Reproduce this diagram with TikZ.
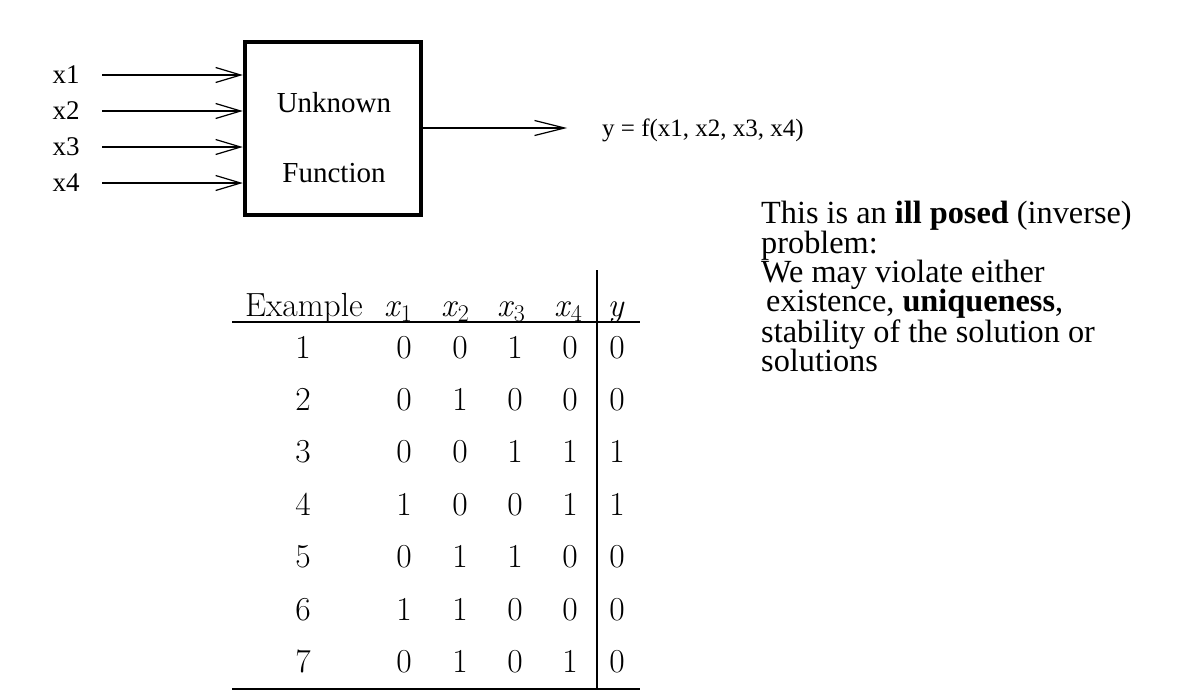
\documentclass[tikz,border=0pt]{standalone}
\usepackage{fontspec}
\newfontfamily\tms{Liberation Serif}
\usetikzlibrary{arrows.meta}
\newcommand{\xs}[1]{\textit{x}\raisebox{-5pt}{\fontsize{24}{26}\selectfont #1}}
\begin{document}
\begin{tikzpicture}[x=1pt,y=-1pt,
  lbl/.style={font=\tms\fontsize{25}{28}\selectfont, inner sep=0pt},
  inlbl/.style={font=\tms\fontsize{27}{30}\selectfont, inner sep=0pt},
  boxlbl/.style={font=\tms\fontsize{29}{32}\selectfont, inner sep=0pt},
  cell/.style={font=\fontsize{33.5}{36}\selectfont, inner sep=0pt, anchor=base},
  inarr/.style={line width=1.2pt, -{Straight Barb[length=25pt,width=15pt,line width=1.2pt]}},
  outarr/.style={line width=1.2pt, -{Straight Barb[length=30pt,width=15pt,line width=1.2pt]}},
  tabrule/.style={line width=1.3pt},
  para/.style={font=\tms\fontsize{32.3}{29.4}\selectfont, inner sep=0pt, align=left, anchor=north west}]
\useasboundingbox (0,0) rectangle (1188,693);
% inputs
\foreach \i/\yy in {1/75,2/111,3/147,4/183}{
  \node[inlbl] (x\i) at (66,\yy) {x\i};
  \coordinate (s\i) at (102,\yy);
}
\node[draw, line width=4.5pt, minimum width=176pt, minimum height=173pt, inner sep=0pt] (box) at (333,128.5) {};
\foreach \i in {1,...,4}{
  \draw[inarr] (s\i) -- (box.west |- s\i);
}
\node[boxlbl] (t1) at (334,103) {Unknown};
\node[boxlbl] (t2) at (334,173) {Function};
\coordinate (oend) at (567,128);
\draw[outarr] (box.east |- oend) -- (oend);
\node[lbl, anchor=west] (yf) at (602,130) {y = f(x1, x2, x3, x4)};
% table
\node[cell] (hE) at (304,316) {Example};
\node[cell] (h1) at (398,316) {\xs{1}};
\node[cell] (h2) at (455,316) {\xs{2}};
\node[cell] (h3) at (511,316) {\xs{3}};
\node[cell] (h4) at (568,316) {\xs{4}};
\node[cell] (hy) at (616,316) {\textit{y}};
\foreach \r/\a/\b/\c/\d/\e [count=\k from 0] in {1/0/0/1/0/0,2/0/1/0/0/0,3/0/0/1/1/1,4/1/0/0/1/1,5/0/1/1/0/0,6/1/1/0/0/0,7/0/1/0/1/0}{
  \pgfmathsetmacro{\yb}{358+52.4*\k}
  \node[cell] (r\r e) at (303,\yb) {\r};
  \node[cell] (r\r a) at (404,\yb) {\a};
  \node[cell] (r\r b) at (460,\yb) {\b};
  \node[cell] (r\r c) at (515,\yb) {\c};
  \node[cell] (r\r d) at (570,\yb) {\d};
  \node[cell] (r\r y) at (617,\yb) {\e};
}
\coordinate (tl) at (232,322);
\coordinate (tr) at (640,322);
\coordinate (bl) at (232,689);
\coordinate (br) at (640,689);
\coordinate (vt) at (597,270);
\coordinate (vb) at (597,689);
\draw[tabrule] (tl) -- (tr);
\draw[tabrule] (bl) -- (br);
\draw[tabrule] (vt) -- (vb);
% text
\node[para] (txt) at (761,201) {This is an \textbf{ill posed} (inverse)\\problem:\\We may violate either\\\hspace*{5pt}existence, \textbf{uniqueness},\\stability of the solution or\\solutions};
\end{tikzpicture}
\end{document}
